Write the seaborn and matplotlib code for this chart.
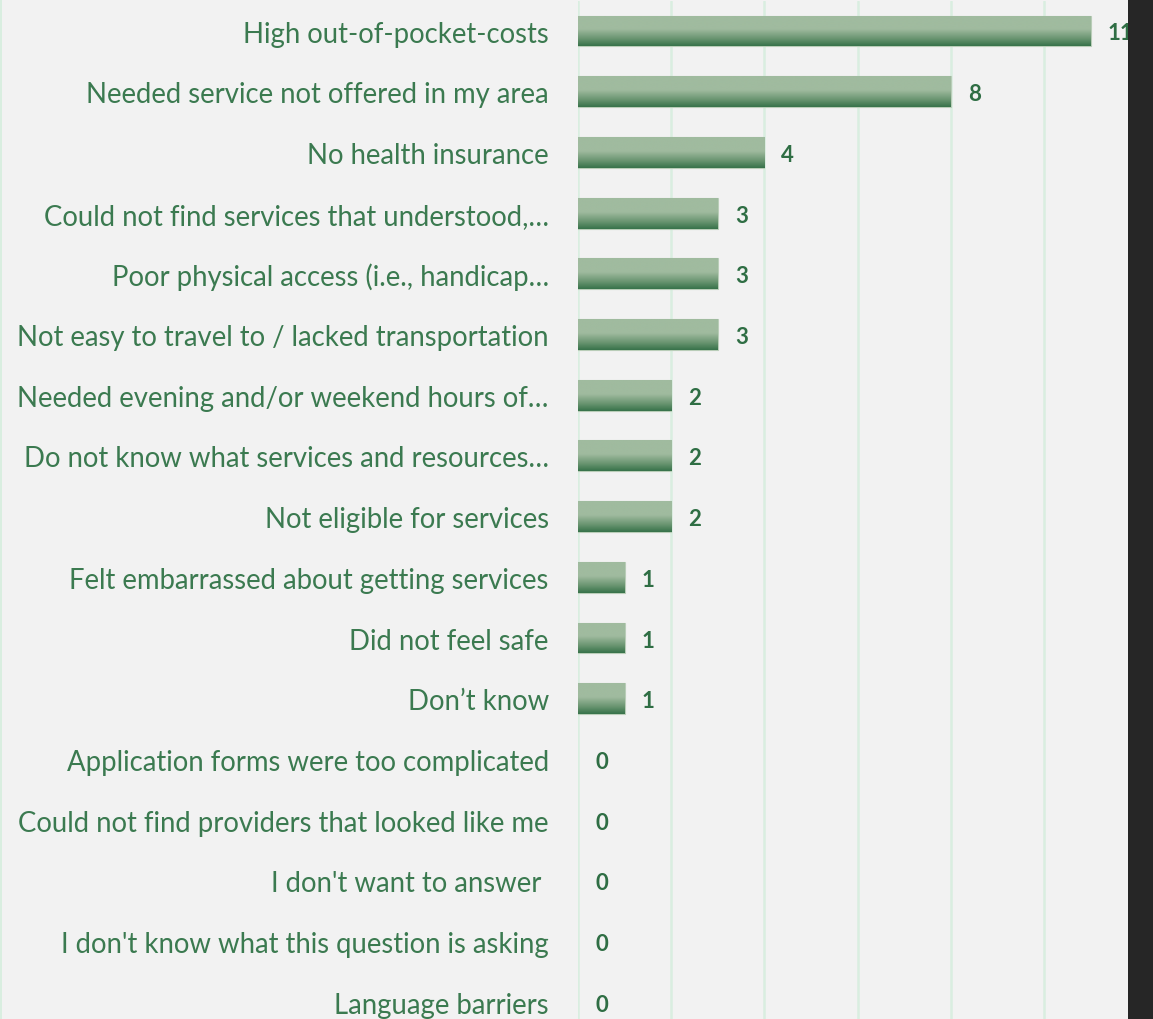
import numpy as np
import pandas as pd
import matplotlib
matplotlib.use("Agg")
import matplotlib.pyplot as plt
from matplotlib.colors import LinearSegmentedColormap
from matplotlib.patches import Rectangle
import seaborn as sns

categories = [
    "High out-of-pocket-costs",
    "Needed service not offered in my area",
    "No health insurance",
    "Could not find services that understood,\u2026",
    "Poor physical access (i.e., handicap\u2026",
    "Not easy to travel to / lacked transportation",
    "Needed evening and/or weekend hours of\u2026",
    "Do not know what services and resources\u2026",
    "Not eligible for services",
    "Felt embarrassed about getting services",
    "Did not feel safe",
    "Don\u2019t know",
    "Application forms were too complicated",
    "Could not find providers that looked like me",
    "I don't want to answer ",
    "I don't know what this question is asking",
    "Language barriers",
]
values = [11, 8, 4, 3, 3, 3, 2, 2, 2, 1, 1, 1, 0, 0, 0, 0, 0]

BG = "#f2f2f2"
TEXT_GREEN = "#3b7a50"
LABEL_GREEN = "#2f6e44"
GRID = "#d9eee0"
BAR_LIGHT = "#a0bb9f"
BAR_DARK = "#37724a"

sns.set_theme(style="white")
plt.rcParams["font.family"] = ["Lato", "DejaVu Sans"]

W, H = 1153, 1020
fig = plt.figure(figsize=(W / 100, H / 100), dpi=100, facecolor=BG)

# axes placed in pixel terms: x=0 at 578 px, 46.6 px per unit
x0_px, unit_px = 578, 46.6
xmax = 12
top_px, row_px = 32, 60.7
n = len(categories)
ax_left = x0_px / W
ax_width = xmax * unit_px / W
ax_top_px = top_px - 0.5 * row_px
ax_bottom_px = top_px + (n - 0.5) * row_px
ax = fig.add_axes([ax_left, (H - ax_bottom_px) / H, ax_width, (ax_bottom_px - ax_top_px) / H])
ax.set_facecolor(BG)

df = pd.DataFrame({"category": categories, "value": values})
sns.barplot(data=df, x="value", y="category", orient="h", ax=ax,
            color=BAR_LIGHT, width=0.51, edgecolor="#b9cdb8", linewidth=0.8,
            saturation=1, zorder=3)

# vertical gradient fill for each bar (light top, darker bottom)
cmap = LinearSegmentedColormap.from_list(
    "bargrad", [(0.0, BAR_LIGHT), (0.45, BAR_LIGHT), (0.75, "#6b9672"), (1.0, BAR_DARK)])
grad = np.linspace(0, 1, 256).reshape(-1, 1)
for p in list(ax.patches):
    w = p.get_width()
    if w <= 0:
        p.set_linewidth(0)
        p.set_visible(False)
        continue
    y0 = p.get_y()
    h = p.get_height()
    im = ax.imshow(grad, cmap=cmap, aspect="auto", origin="lower",
                   extent=[p.get_x(), p.get_x() + w, y0, y0 + h], zorder=3.5,
                   interpolation="bilinear")
    im.set_clip_path(p)

for i, v in enumerate(values):
    ax.annotate(f"{v}", xy=(v, i), xytext=(17, -2),
                textcoords="offset pixels", va="center", ha="left",
                fontsize=16, fontweight="bold", color=LABEL_GREEN, zorder=5)

ax.set_xlim(0, xmax)
ax.set_ylim(n - 0.5, -0.5)
ax.set_xticks(range(0, xmax + 1, 2))
ax.set_xticklabels([])
ax.xaxis.grid(True, color=GRID, linewidth=1.8, zorder=0)
ax.yaxis.grid(False)
ax.set_axisbelow(True)
ax.set_xlabel("")
ax.set_ylabel("")
for s in ax.spines.values():
    s.set_visible(False)
ax.tick_params(axis="y", length=0, pad=21, labelsize=19.8, labelcolor=TEXT_GREEN)
ax.tick_params(axis="x", length=0)

# faint frame line at the far left and dark strip on the right edge
fig.add_artist(Rectangle((0, 0), 2 / W, 1, transform=fig.transFigure,
                         facecolor=GRID, edgecolor="none", zorder=9))
fig.add_artist(Rectangle((1128 / W, 0), 1 - 1128 / W, 1, transform=fig.transFigure,
                         facecolor="#262626", edgecolor="none", zorder=10))

fig.savefig("out.png", dpi=100, facecolor=BG)
